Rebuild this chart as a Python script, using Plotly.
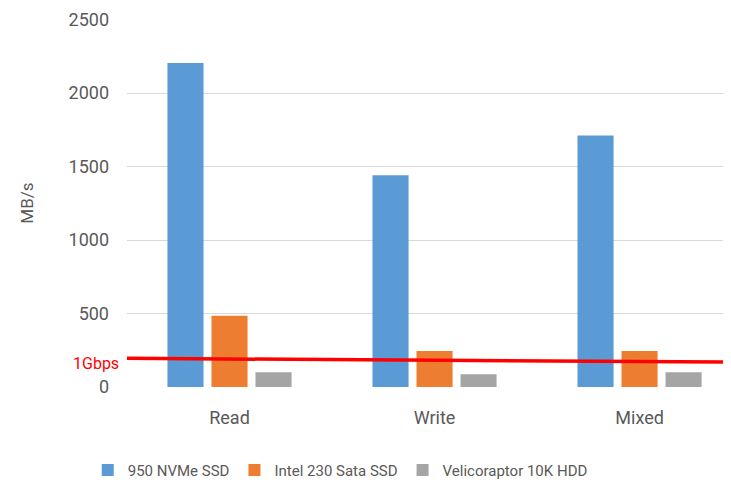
import plotly.graph_objects as go

categories = ["Read", "Write", "Mixed"]
nvme = [2205, 1440, 1712]
intel = [485, 245, 245]
velociraptor = [100, 86, 100]
series_names = ["950 NVMe SSD", "Intel 230 Sata SSD", "Velicoraptor 10K HDD"]
colors = ["#5b9bd5", "#ed7d31", "#a5a5a5"]
gbps_line = [195, 170]  # start / end value of the red 1Gbps line
y_ticks = [0, 500, 1000, 1500, 2000, 2500]

FONT = "Liberation Sans Narrow, Arial Narrow, Roboto, sans-serif"
GRAY = "#595959"

fig = go.Figure()
for name, vals, c in zip(series_names, [nvme, intel, velociraptor], colors):
    fig.add_trace(go.Bar(x=categories, y=vals, name=name, marker_color=c,
                         marker_line_width=0))

fig.add_shape(type="line", xref="paper", yref="y", x0=0, x1=1,
              y0=gbps_line[0], y1=gbps_line[1],
              line=dict(color="#ff0000", width=3.5))
fig.add_annotation(text="1Gbps", xref="paper", yref="y", x=0, y=gbps_line[0],
                   xanchor="right", yanchor="middle", showarrow=False,
                   xshift=-6, yshift=-5,
                   font=dict(family=FONT, size=16, color="#ff0000"))

fig.update_layout(
    width=723, height=479,
    margin=dict(l=119, r=0, t=11, b=100, autoexpand=False),
    paper_bgcolor="white", plot_bgcolor="white",
    barmode="group", bargap=0.356, bargroupgap=0.18,
    font=dict(family=FONT, color=GRAY, size=17),
    xaxis=dict(range=[-0.5, 2.446], showgrid=False, showline=False,
               ticks="", ticklabelstandoff=18, automargin=False,
               tickfont=dict(family=FONT, size=18, color=GRAY)),
    yaxis=dict(range=[0, 2504], tickvals=y_ticks, showgrid=True,
               gridcolor="#d9d9d9", gridwidth=1.3, zeroline=False,
               showline=False, ticks="", ticklabelstandoff=17,
               automargin=False,
               tickfont=dict(family=FONT, size=18, color=GRAY),
               title=dict(text="MB/s", standoff=30,
                          font=dict(family=FONT, size=17, color=GRAY))),
    legend=dict(orientation="h", x=-0.065, xanchor="left", y=-0.226,
                yanchor="middle", font=dict(family=FONT, size=15, color=GRAY),
                itemwidth=30, tracegroupgap=0, traceorder="normal"),
    showlegend=True,
)

fig.write_html("out.html")
